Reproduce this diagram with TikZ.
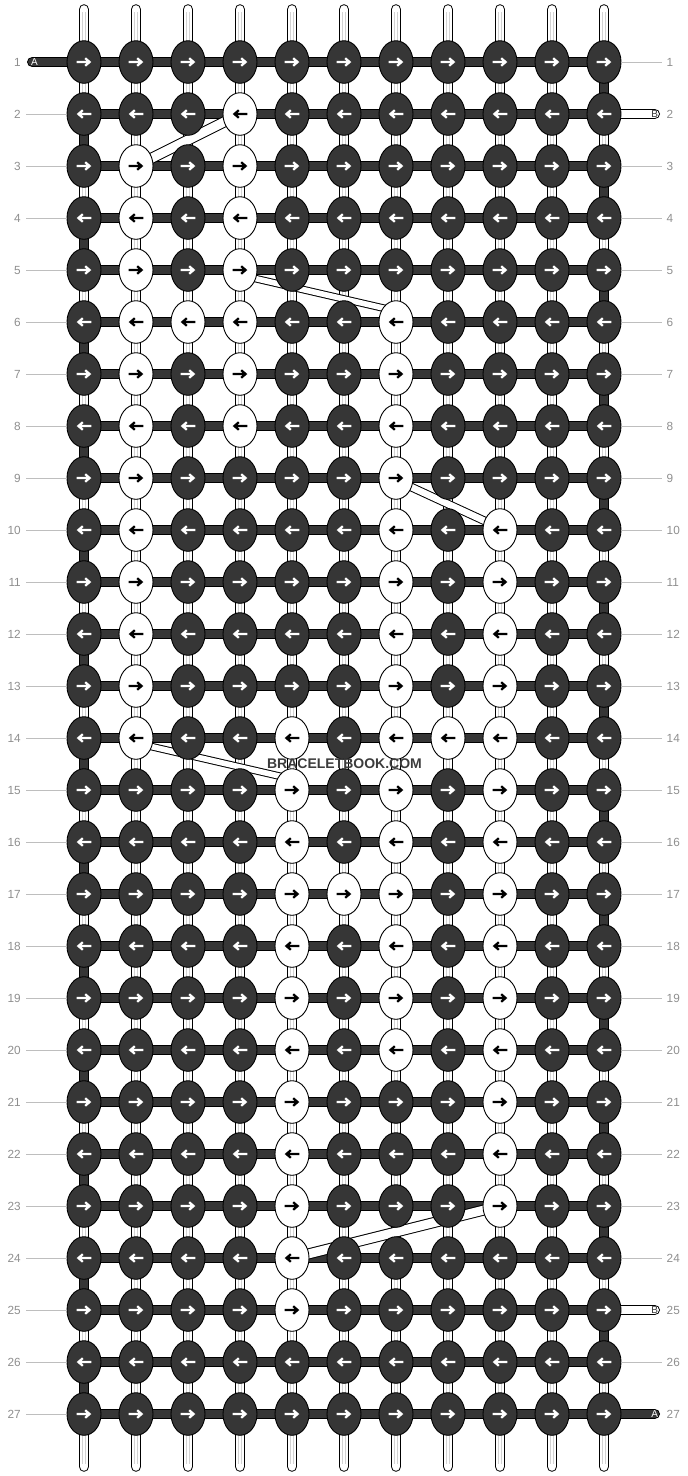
\documentclass[tikz,border=0pt]{standalone}
\usepackage{fontspec}
\setmainfont{Liberation Sans}
\usetikzlibrary{shapes.geometric}
\definecolor{kd}{HTML}{363636}
\definecolor{lbl}{HTML}{8E8E8E}
\definecolor{lblline}{HTML}{BEBEBE}
\definecolor{sgrey}{HTML}{D2D2D2}
\definecolor{wmark}{HTML}{3C3C3C}
\def\whiteset{,2-4,3-2,3-4,4-2,4-4,5-2,5-4,6-2,6-3,6-4,6-7,7-2,7-4,7-7,8-2,8-4,8-7,9-2,9-7,10-2,10-7,10-9,11-2,11-7,11-9,12-2,12-7,12-9,13-2,13-7,13-9,14-2,14-5,14-7,14-8,14-9,15-5,15-7,15-9,16-5,16-7,16-9,17-5,17-6,17-7,17-9,18-5,18-7,18-9,19-5,19-7,19-9,20-5,20-7,20-9,21-5,21-9,22-5,22-9,23-5,23-9,24-5,25-5,}
\newif\ifwk
\makeatletter
\newcommand\testwhite[2]{\edef\@tempa{\noexpand\in@{,#1-#2,}{\whiteset}}\@tempa\ifin@\global\wktrue\else\global\wkfalse\fi}
\makeatother
\begin{document}
\begin{tikzpicture}[x=1pt,y=-1pt,
  darkknot/.style={ellipse, draw=black, fill=kd, line width=0.9pt, minimum width=34pt, minimum height=42.6pt, inner sep=0pt},
  whiteknot/.style={darkknot, fill=white},
  arr/.style={line width=2.2pt},
  rowlbl/.style={text=lbl, font=\fontsize{11.8}{12}\selectfont, inner sep=0pt},
  lblline/.style={draw=lblline, line width=1pt},
  stublbl/.style={font=\fontsize{10}{10}\selectfont, inner sep=0pt},
  strout/.style={line width=10.6pt, line cap=round},
  strin/.style={white, line width=8.6pt, line cap=round},
  barout/.style={line width=10.8pt},
  barin/.style={kd, line width=8.8pt},
]
\useasboundingbox (0,0) rectangle (688,1476);
% grid positions
\foreach \r in {1,...,27} {
  \foreach \c in {1,...,11} {
    \coordinate (p-\r-\c) at ({84+52*(\c-1)},{62+52*(\r-1)});
  }
}
% vertical strings
\foreach \c in {1,...,11} {
  \coordinate (st-\c) at ({84+52*(\c-1)},9.5);
  \coordinate (sb-\c) at ({84+52*(\c-1)},1466.5);
  \coordinate (gt-\c) at ({84+52*(\c-1)},12);
  \coordinate (gb-\c) at ({84+52*(\c-1)},1464);
  \draw[strout] (st-\c) -- (sb-\c);
  \draw[strin] (st-\c) -- (sb-\c);
  \draw[sgrey, line width=4.4pt] (gt-\c) -- (gb-\c);
  \draw[white, line width=2.4pt] (gt-\c) -- (gb-\c);
}
% horizontal working thread
\foreach \r in {1,...,27} {
  \draw[barout] (p-\r-1) -- (p-\r-11);
  \draw[barin] (p-\r-1) -- (p-\r-11);
}
% edge turns of the working thread
\foreach \r [evaluate=\r as \n using int(\r+1)] in {1,3,...,25} {
  \draw[barout] (p-\r-11) -- (p-\n-11);
  \draw[barin] (p-\r-11) -- (p-\n-11);
}
\foreach \r [evaluate=\r as \n using int(\r+1)] in {2,4,...,26} {
  \draw[barout] (p-\r-1) -- (p-\n-1);
  \draw[barin] (p-\r-1) -- (p-\n-1);
}
% stubs
\coordinate (ain) at (32.4,62);
\coordinate (bout2) at (654.6,114);
\coordinate (bout25) at (654.6,1310);
\coordinate (aout) at (654.6,1414);
\draw[line width=10.8pt, line cap=round] (ain) -- (p-1-1);
\draw[kd, line width=8.8pt, line cap=round] (ain) -- (p-1-1);
\draw[line width=10.8pt, line cap=round] (aout) -- (p-27-11);
\draw[kd, line width=8.8pt, line cap=round] (aout) -- (p-27-11);
\draw[line width=10.8pt, line cap=round] (bout2) -- (p-2-11);
\draw[white, line width=8.8pt, line cap=round] (bout2) -- (p-2-11);
\draw[line width=10.8pt, line cap=round] (bout25) -- (p-25-11);
\draw[white, line width=8.8pt, line cap=round] (bout25) -- (p-25-11);
\node[stublbl, text=white] (alab1) at (34.4,62.3) {A};
\node[stublbl, text=white] (alab27) at (654.8,1414.3) {A};
\node[stublbl, text=kd] (blab2) at (654.8,114.3) {B};
\node[stublbl, text=kd] (blab25) at (654.8,1310.3) {B};
% carried (floating) threads
\draw[line width=11pt] (p-2-4) -- (p-3-2);
\draw[white, line width=9pt] (p-2-4) -- (p-3-2);
\draw[line width=7.6pt] ([yshift=-5pt]p-5-4) -- ([yshift=11pt]p-6-7);
\draw[white, line width=5.6pt] ([yshift=-5pt]p-5-4) -- ([yshift=11pt]p-6-7);
\draw[line width=8.6pt] ([yshift=-2pt]p-9-7) -- ([yshift=2pt]p-10-9);
\draw[white, line width=6.6pt] ([yshift=-2pt]p-9-7) -- ([yshift=2pt]p-10-9);
\draw[line width=7.6pt] ([yshift=-5pt]p-14-2) -- ([yshift=11pt]p-15-5);
\draw[white, line width=5.6pt] ([yshift=-5pt]p-14-2) -- ([yshift=11pt]p-15-5);
\draw[line width=11pt] (p-23-9) -- (p-24-5);
\draw[white, line width=9pt] (p-23-9) -- (p-24-5);
% knots
\foreach \r in {1,...,27} {
  \foreach \c in {1,...,11} {
    \testwhite{\r}{\c}%
    \ifwk
      \node[whiteknot] (k-\r-\c) at (p-\r-\c) {};
      \def\acol{black}%
    \else
      \node[darkknot] (k-\r-\c) at (p-\r-\c) {};
      \def\acol{white}%
    \fi
    \ifodd\r\relax \def\dir{1}\else \def\dir{-1}\fi
    \begin{scope}[shift={(p-\r-\c)}, xscale=\dir]
      \draw[arr, \acol] (-7.3,0) -- (5,0) (1.2,-3.8) -- (5.6,0) -- (1.2,3.8);
    \end{scope}
  }
}
% row labels
\foreach \r in {1,...,27} {
  \node[rowlbl, anchor=east] (ll-\r) at (21,{62+52*(\r-1)}) {\r};
  \node[rowlbl, anchor=west] (rl-\r) at (666.5,{62+52*(\r-1)}) {\r};
  \ifnum\r=1 \else
    \draw[lblline] ([xshift=5pt]ll-\r.east) -- (k-\r-1.west);
  \fi
  \ifnum\r=2 \else\ifnum\r=25 \else\ifnum\r=27 \else
    \draw[lblline] (k-\r-11.east) -- ([xshift=-5pt]rl-\r.west);
  \fi\fi\fi
}
% watermark
\node[font=\bfseries\fontsize{14}{14}\selectfont, text=wmark, inner sep=0pt] (wm) at (344.5,763.5) {BRACELETBOOK.COM};
\end{tikzpicture}
\end{document}
